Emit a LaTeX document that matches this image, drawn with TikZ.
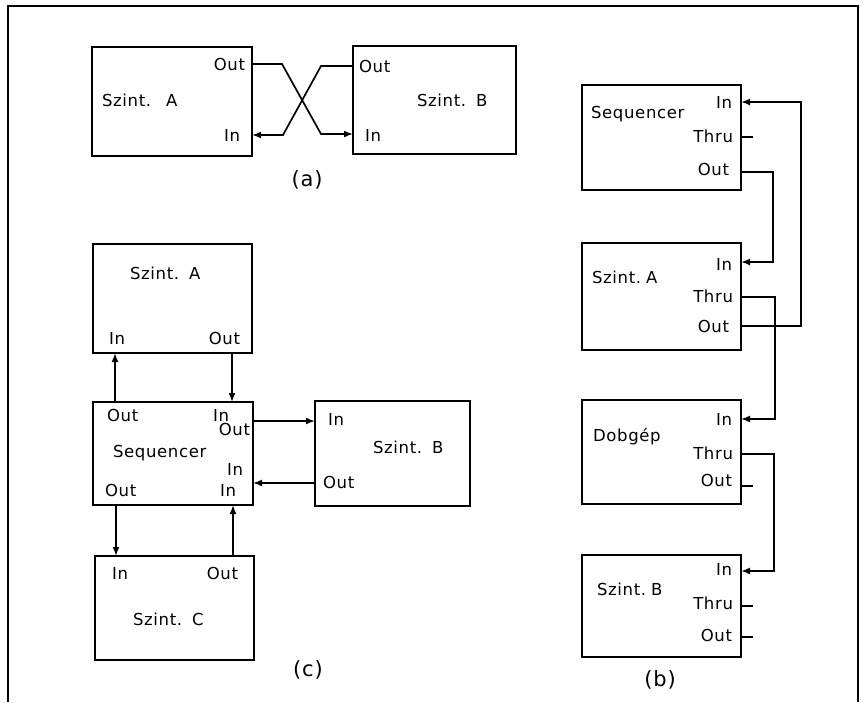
\documentclass[tikz,border=0pt]{standalone}
\usepackage{fontspec}
\newfontfamily\lbfont[LetterSpace=4]{DejaVu Sans}
\usetikzlibrary{arrows.meta}
\begin{document}
\begin{tikzpicture}[x=1pt,y=-1pt,
  box/.style={draw,line width=1.8pt,inner sep=0pt,outer sep=0pt,anchor=north west},
  lbl/.style={font=\lbfont\fontsize{16.5}{18}\selectfont,inner sep=0pt,outer sep=0pt},
  panellbl/.style={font=\lbfont\fontsize{21}{24}\selectfont,inner sep=0pt,outer sep=0pt},
  conn/.style={line width=1.7pt},
  arr/.style={conn,-{Latex[length=9pt,width=7pt]}},
  frame/.style={line width=1.5pt}]
\useasboundingbox (0,0) rectangle (864,702);
% outer frame (open at the bottom)
\draw[frame] (8,702) -- (8,6) -- (858,6) -- (858,702);

% ================= (a) =================
\node[box,minimum width=160pt,minimum height=109pt] (aA) at (92,47) {};
\node[box,minimum width=163pt,minimum height=108pt] (aB) at (353,46) {};
\node[lbl,anchor=base west] (aAname) at (102,106) {Szint.\hspace{0.9em}A};
\node[lbl,anchor=base east] (aAoutl) at (245,70) {Out};
\node[lbl,anchor=base east] (aAinl) at (240,141) {In};
\node[lbl,anchor=base west] (aBname) at (417,106) {Szint.\hspace{0.6em}B};
\node[lbl,anchor=base west] (aBoutl) at (359,72) {Out};
\node[lbl,anchor=base west] (aBinl) at (365,141) {In};
\coordinate (aAout) at (252,64);
\coordinate (aAin) at (252,135);
\coordinate (aBout) at (353,66);
\coordinate (aBin) at (353,134);
\draw[arr] (aAout) -- (282,64) -- (321,134) -- (aBin);
\draw[arr] (aBout) -- (321,66) -- (283,135) -- (aAin);
\node[panellbl] (alab) at (307,180) {(a)};

% ================= (b) =================
\node[box,minimum width=159pt,minimum height=105pt] (bS) at (582,85) {};
\node[box,minimum width=159pt,minimum height=107pt] (bA) at (582,243) {};
\node[box,minimum width=159pt,minimum height=104pt] (bD) at (582,400) {};
\node[box,minimum width=159pt,minimum height=102pt] (bB) at (582,555) {};

\node[lbl,anchor=base west] (bSname) at (591,118) {Sequencer};
\node[lbl,anchor=base east] (bSin) at (732,108) {In};
\node[lbl,anchor=base east] (bSthru) at (733,142) {Thru};
\node[lbl,anchor=base east] (bSout) at (729,175) {Out};

\node[lbl,anchor=base west] (bAname) at (592,283) {Szint.\hspace{0.3em}A};
\node[lbl,anchor=base east] (bAin) at (732,270) {In};
\node[lbl,anchor=base east] (bAthru) at (733,302) {Thru};
\node[lbl,anchor=base east] (bAout) at (729,332) {Out};

\node[lbl,anchor=base west] (bDname) at (593,441) {Dobgép};
\node[lbl,anchor=base east] (bDin) at (732,425) {In};
\node[lbl,anchor=base east] (bDthru) at (733,459) {Thru};
\node[lbl,anchor=base east] (bDout) at (732,486) {Out};

\node[lbl,anchor=base west] (bBname) at (597,595) {Szint.\hspace{0.3em}B};
\node[lbl,anchor=base east] (bBin) at (732,575) {In};
\node[lbl,anchor=base east] (bBthru) at (733,609) {Thru};
\node[lbl,anchor=base east] (bBout) at (732,641) {Out};

\coordinate (bSinP) at (741,102);
\coordinate (bSthruP) at (741,137);
\coordinate (bSoutP) at (741,172);
\coordinate (bAinP) at (741,262);
\coordinate (bAthruP) at (741,297);
\coordinate (bAoutP) at (741,326);
\coordinate (bDinP) at (741,419);
\coordinate (bDthruP) at (741,454);
\coordinate (bDoutP) at (741,486);
\coordinate (bBinP) at (741,571);
\coordinate (bBthruP) at (741,606);
\coordinate (bBoutP) at (741,637);

\draw[conn] (bSthruP) -- ++(12,0);
\draw[conn] (bDoutP) -- ++(12,0);
\draw[conn] (bBthruP) -- ++(12,0);
\draw[conn] (bBoutP) -- ++(12,0);
\draw[arr] (bSoutP) -- (773,172) -- (773,262) -- (bAinP);
\draw[arr] (bAthruP) -- (775,297) -- (775,419) -- (bDinP);
\draw[arr] (bAoutP) -- (801,326) -- (801,102) -- (bSinP);
\draw[arr] (bDthruP) -- (774,454) -- (774,571) -- (bBinP);
\node[panellbl] (blab) at (660,680) {(b)};

% ================= (c) =================
\node[box,minimum width=159pt,minimum height=109pt] (cA) at (93,244) {};
\node[box,minimum width=160pt,minimum height=103pt] (cS) at (93,402) {};
\node[box,minimum width=155pt,minimum height=105pt] (cB) at (315,401) {};
\node[box,minimum width=159pt,minimum height=104pt] (cC) at (95,556) {};

\node[lbl,anchor=base west] (cAname) at (130,279) {Szint.\hspace{0.6em}A};
\node[lbl,anchor=base west] (cAinl) at (109,344) {In};
\node[lbl,anchor=base east] (cAoutl) at (240,344) {Out};

\node[lbl,anchor=base west] (cSo1l) at (107,421) {Out};
\node[lbl,anchor=base west] (cSi1l) at (213,421) {In};
\node[lbl,anchor=base east] (cSo2l) at (250,435) {Out};
\node[lbl,anchor=base west] (cSname) at (113,457) {Sequencer};
\node[lbl,anchor=base east] (cSi2l) at (243,475) {In};
\node[lbl,anchor=base west] (cSo3l) at (105,496) {Out};
\node[lbl,anchor=base west] (cSi3l) at (220,496) {In};

\node[lbl,anchor=base west] (cBinl) at (328,425) {In};
\node[lbl,anchor=base west] (cBname) at (373,453) {Szint.\hspace{0.6em}B};
\node[lbl,anchor=base west] (cBoutl) at (323,488) {Out};

\node[lbl,anchor=base west] (cCinl) at (112,579) {In};
\node[lbl,anchor=base east] (cCoutl) at (238,579) {Out};
\node[lbl,anchor=base west] (cCname) at (133,625) {Szint.\hspace{0.6em}C};

\coordinate (cAin) at (115,353);
\coordinate (cAout) at (232,353);
\coordinate (cSo1) at (115,402);
\coordinate (cSi1) at (232,402);
\coordinate (cSo2) at (253,421);
\coordinate (cSi2) at (253,483);
\coordinate (cSo3) at (116,505);
\coordinate (cSi3) at (233,505);
\coordinate (cBin) at (315,421);
\coordinate (cBout) at (315,483);
\coordinate (cCin) at (116,556);
\coordinate (cCout) at (233,556);

\draw[arr] (cSo1) -- (cAin);
\draw[arr] (cAout) -- (cSi1);
\draw[arr] (cSo2) -- (cBin);
\draw[arr] (cBout) -- (cSi2);
\draw[arr] (cSo3) -- (cCin);
\draw[arr] (cCout) -- (cSi3);
\node[panellbl] (clab) at (308,670) {(c)};
\end{tikzpicture}
\end{document}
